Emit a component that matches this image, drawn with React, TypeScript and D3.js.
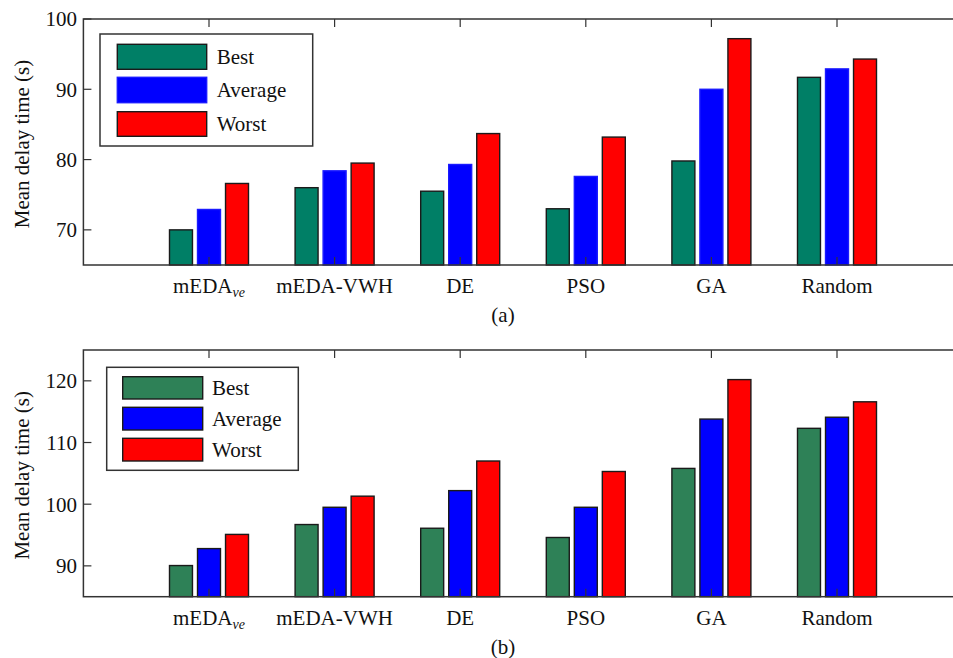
import React from 'react';
import * as d3 from 'd3';

const categories = ['mEDA', 'mEDA-VWH', 'DE', 'PSO', 'GA', 'Random'];
const seriesNames = ['Best', 'Average', 'Worst'];

// panel (a)
const bestA = [70.0, 76.0, 75.5, 73.0, 79.8, 91.7];
const averageA = [72.9, 78.4, 79.3, 77.6, 90.0, 92.9];
const worstA = [76.6, 79.5, 83.7, 83.2, 97.2, 94.3];
const ticksA = [70, 80, 90, 100];

// panel (b)
const bestB = [90.05, 96.7, 96.1, 94.6, 105.8, 112.3];
const averageB = [92.8, 99.5, 102.2, 99.5, 113.8, 114.1];
const worstB = [95.1, 101.3, 107.0, 105.3, 120.2, 116.6];
const ticksB = [90, 100, 110, 120];

const W = 953;
const H = 658;
const FONT = '"Liberation Serif", "Times New Roman", serif';
const FS = 21;
const AXIS = '#333';

const x = d3.scaleLinear().domain([0, 7]).range([83.4, 962.6]);
const step = x(1) - x(0);
const inner = d3
  .scaleBand<string>()
  .domain(seriesNames)
  .range([-0.3145 * step, 0.3145 * step])
  .paddingInner(0.18)
  .paddingOuter(0);

type PanelProps = {
  top: number;
  bottom: number;
  domain: [number, number];
  ticks: number[];
  series: number[][];
  colors: string[];
  strokes: string[];
  letter: string;
  legend: { x0: number; x1: number; y0: number; y1: number; px0: number; px1: number; rows: [number, number][]; tx: number };
};

const Panel = ({ top, bottom, domain, ticks, series, colors, strokes, letter, legend }: PanelProps) => {
  const y = d3.scaleLinear().domain(domain).range([bottom, top]);
  const left = x(0);
  const right = x(7);
  return (
    <g>
      {series.map((vals, si) =>
        vals.map((v, ci) => (
          <rect
            key={`${si}-${ci}`}
            x={x(ci + 1) + (inner(seriesNames[si]) as number)}
            y={y(v)}
            width={inner.bandwidth()}
            height={bottom - y(v)}
            fill={colors[si]}
            stroke={strokes[si]}
            strokeWidth={1.4}
          />
        ))
      )}
      <rect x={left} y={top} width={right - left} height={bottom - top} fill="none" stroke={AXIS} strokeWidth={1.5} />
      {ticks.map(t => (
        <g key={t}>
          <line x1={left} x2={left + 8} y1={y(t)} y2={y(t)} stroke={AXIS} strokeWidth={1.2} />
          <line x1={right} x2={right - 8} y1={y(t)} y2={y(t)} stroke={AXIS} strokeWidth={1.2} />
          <text x={77} y={y(t)} dy="0.35em" textAnchor="end" fontFamily={FONT} fontSize={FS} fill="#111">
            {t}
          </text>
        </g>
      ))}
      {categories.map((c, i) => (
        <g key={c}>
          <line x1={x(i + 1)} x2={x(i + 1)} y1={top} y2={top + 8} stroke={AXIS} strokeWidth={1.2} />
          <line x1={x(i + 1)} x2={x(i + 1)} y1={bottom} y2={bottom - 8} stroke={AXIS} strokeWidth={1.2} />
          <text x={x(i + 1)} y={bottom + 28} textAnchor="middle" fontFamily={FONT} fontSize={FS} fill="#111">
            {c}
            {i === 0 ? (
              <tspan fontStyle="italic" fontSize={14} dy={4}>
                ve
              </tspan>
            ) : null}
          </text>
        </g>
      ))}
      <text
        transform={`translate(29,${(top + bottom) / 2 + 2}) rotate(-90)`}
        textAnchor="middle"
        fontFamily={FONT}
        fontSize={FS}
        fill="#111"
      >
        Mean delay time (s)
      </text>
      <text x={503} y={bottom + 57} textAnchor="middle" fontFamily={FONT} fontSize={FS} fill="#111">
        ({letter})
      </text>
      <rect
        x={legend.x0}
        y={legend.y0}
        width={legend.x1 - legend.x0}
        height={legend.y1 - legend.y0}
        fill="#fff"
        stroke={AXIS}
        strokeWidth={1.5}
      />
      {seriesNames.map((s, si) => (
        <g key={s}>
          <rect
            x={legend.px0}
            y={legend.rows[si][0]}
            width={legend.px1 - legend.px0}
            height={legend.rows[si][1] - legend.rows[si][0]}
            fill={colors[si]}
            stroke={strokes[si]}
            strokeWidth={1.4}
          />
          <text
            x={legend.tx}
            y={(legend.rows[si][0] + legend.rows[si][1]) / 2}
            dy="0.35em"
            fontFamily={FONT}
            fontSize={FS}
            fill="#111"
          >
            {s}
          </text>
        </g>
      ))}
    </g>
  );
};

const App = () => (
  <svg width={W} height={H} style={{ position: 'absolute', left: 0, top: 0, background: '#fff' }}>
    <Panel
      top={19}
      bottom={265}
      domain={[65, 100]}
      ticks={ticksA}
      series={[bestA, averageA, worstA]}
      colors={['#007f66', '#0000ff', '#ff0000']}
      strokes={['#1a1a1a', '#1a1aff', '#1a1a1a']}
      letter="a"
      legend={{
        x0: 100,
        x1: 312.7,
        y0: 34,
        y1: 146,
        px0: 117.3,
        px1: 206.7,
        rows: [
          [44.3, 69.3],
          [77.3, 102.7],
          [111.7, 136.3],
        ],
        tx: 216.7,
      }}
    />
    <Panel
      top={350}
      bottom={596.7}
      domain={[85, 125]}
      ticks={ticksB}
      series={[bestB, averageB, worstB]}
      colors={['#2e8157', '#0000ff', '#ff0000']}
      strokes={['#1a1a1a', '#1a1a1a', '#1a1a1a']}
      letter="b"
      legend={{
        x0: 106.7,
        x1: 298.3,
        y0: 367.3,
        y1: 470.3,
        px0: 122.7,
        px1: 202.7,
        rows: [
          [376.7, 399],
          [407.3, 430],
          [438.3, 461],
        ],
        tx: 212,
      }}
    />
  </svg>
);

export default App;
